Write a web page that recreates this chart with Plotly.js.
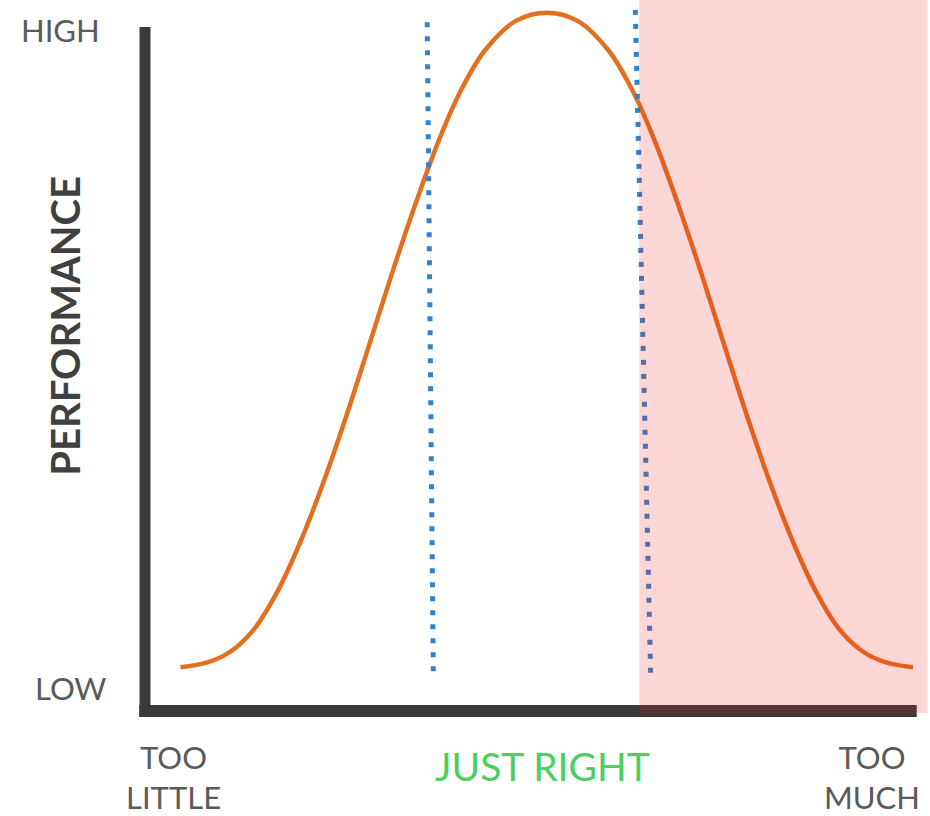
<!DOCTYPE html>
<html>
<head>
<meta charset="utf-8">
<script src="https://cdn.plot.ly/plotly-3.0.1.min.js"></script>
<style>html,body{margin:0;padding:0;background:#fff;}#chart{width:930px;height:816px;}</style>
</head>
<body>
<div id="chart"></div>
<script>
// Amount (0 = too little, 100 = too much) and performance (0 = low, 100 = high)
const amount = [4.6, 8.1, 11.1, 14.1, 17.1, 20.1, 23.1, 26.1, 29.1, 32.1, 35.1, 38.1, 41.1, 44.1, 48.1, 52.1,
                56.1, 60.1, 63.1, 66.1, 69.1, 72.1, 75.1, 78.1, 81.1, 84.1, 87.1, 90.1, 93.1, 96.1, 99.6];
const performance = [6.4, 7.1, 8.7, 11.9, 17.3, 24.6, 33.3, 43.1, 53.6, 64.2, 74.2, 83.4, 91.0, 96.6, 100.9, 102.1,
                     100.9, 96.6, 91.0, 83.4, 74.2, 64.2, 53.6, 43.1, 33.3, 24.6, 17.3, 11.9, 8.7, 7.1, 6.4];

// "Just right" boundaries (dotted lines, slightly slanted as in the sketch)
const leftBoundX = [36.6, 37.4];
const leftBoundY = [100.7, 4.8];
const rightBoundX = [63.6, 65.6];
const rightBoundY = [102.5, 4.8];
const tooMuchStart = 64.1;

const yLabels = ["HIGH", "LOW"];
const xLabels = ["TOO<br>LITTLE", "JUST RIGHT", "TOO<br>MUCH"];
const yTitle = "PERFORMANCE";

const FONT = "Lato, 'Open Sans', sans-serif";
const grey = "#5a5a5a";

const traces = [
  {x: amount, y: performance, mode: "lines", line: {color: "#e2701e", width: 4.5, shape: "spline", smoothing: 1}, hoverinfo: "skip"},
  {x: leftBoundX, y: leftBoundY, mode: "lines", line: {color: "#2f82cc", width: 5, dash: "5px,9px"}, hoverinfo: "skip"},
  {x: rightBoundX, y: rightBoundY, mode: "lines", line: {color: "#2f82cc", width: 5, dash: "5px,9px"}, hoverinfo: "skip"}
];

const layout = {
  width: 930, height: 816,
  margin: {l: 0, r: 0, t: 0, b: 0},
  paper_bgcolor: "#ffffff", plot_bgcolor: "#ffffff",
  showlegend: false,
  xaxis: {range: [-18.81, 101.82], visible: false, fixedrange: true},
  yaxis: {range: [-15.35, 103.95], visible: false, fixedrange: true},
  shapes: [
    {type: "line", xref: "x", yref: "y", x0: 0, x1: 0, y0: -0.8, y1: 100, line: {color: "#3a3a3a", width: 11}, layer: "below"},
    {type: "line", xref: "x", yref: "y", x0: -0.75, x1: 100.1, y0: 0, y1: 0, line: {color: "#3a3a3a", width: 12}, layer: "below"},
    {type: "rect", xref: "x", yref: "y", x0: tooMuchStart, x1: 101.5, y0: -0.3, y1: 104, fillcolor: "rgba(245,30,30,0.18)", line: {width: 0}, layer: "above"}
  ],
  annotations: [
    {x: -11.0, y: 99.6, xref: "x", yref: "y", text: yLabels[0], showarrow: false, font: {family: FONT, size: 31, color: grey}},
    {x: -9.7, y: 3.4, xref: "x", yref: "y", text: yLabels[1], showarrow: false, font: {family: FONT, size: 31, color: grey}},
    {x: -10.4, y: 56.3, xref: "x", yref: "y", text: "<b>" + yTitle + "</b>", textangle: -90, showarrow: false, font: {family: FONT, size: 40, color: "#404040"}},
    {x: 3.7, y: -9.7, xref: "x", yref: "y", text: xLabels[0], showarrow: false, font: {family: FONT, size: 31, color: grey}},
    {x: 51.6, y: -8.0, xref: "x", yref: "y", text: xLabels[1], showarrow: false, font: {family: FONT, size: 39, color: "#4ccf5e"}},
    {x: 94.3, y: -9.7, xref: "x", yref: "y", text: xLabels[2], showarrow: false, font: {family: FONT, size: 31, color: grey}}
  ]
};

Plotly.newPlot("chart", traces, layout, {displayModeBar: false, staticPlot: true});
</script>
</body>
</html>
